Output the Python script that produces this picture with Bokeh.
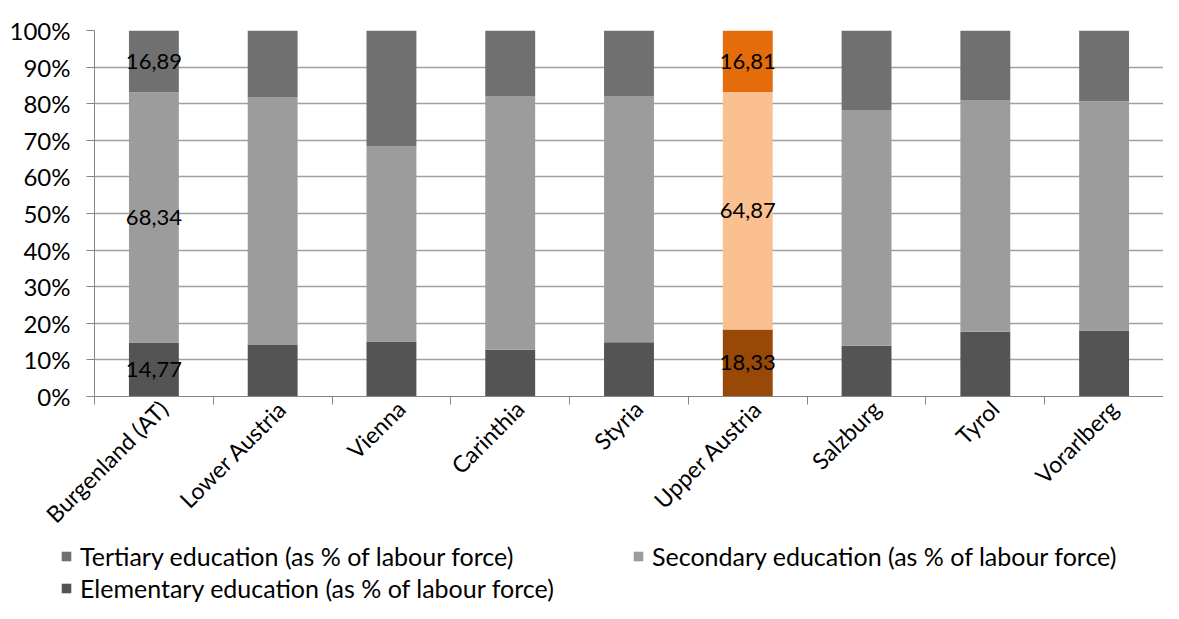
from bokeh.plotting import figure
from bokeh.layouts import column
from bokeh.models import ColumnDataSource, FixedTicker, Legend, LegendItem, Range1d
from bokeh.embed import file_html
from bokeh.resources import INLINE
from bokeh.core.properties import value

regions = ["Burgenland (AT)", "Lower Austria", "Vienna", "Carinthia", "Styria",
           "Upper Austria", "Salzburg", "Tyrol", "Vorarlberg"]
elementary = [14.77, 14.1, 15.0, 12.8, 14.8, 18.33, 13.9, 17.7, 18.0]
secondary = [68.34, 67.6, 53.3, 69.3, 67.3, 64.87, 64.4, 63.3, 62.7]
tertiary = [16.89, 18.3, 31.7, 17.9, 17.9, 16.81, 21.7, 19.0, 19.3]
highlight = "Upper Austria"
labelled = ["Burgenland (AT)", "Upper Austria"]
y_ticks = [0, 10, 20, 30, 40, 50, 60, 70, 80, 90, 100]
series_names = ["Tertiary education (as % of labour force)",
                "Secondary education (as % of labour force)",
                "Elementary education (as % of labour force)"]

FONT = "Lato"
GRAY = {"ter": "#707070", "sec": "#9c9c9c", "ele": "#545454"}
ORANGE = {"ter": "#E46C0A", "sec": "#FAC090", "ele": "#984807"}

xs = [i + 0.5 for i in range(len(regions))]
label_pos = [x + 0.08 for x in xs]
ele_top = list(elementary)
sec_top = [e + s for e, s in zip(elementary, secondary)]
ter_top = [e + s + t for e, s, t in zip(elementary, secondary, tertiary)]

def col(key):
    return [ORANGE[key] if r == highlight else GRAY[key] for r in regions]

src = ColumnDataSource(dict(
    x=xs, zero=[0] * len(xs), ele_top=ele_top, sec_top=sec_top, ter_top=ter_top,
    c_ele=col("ele"), c_sec=col("sec"), c_ter=col("ter"),
))

W = 1163
PH = 541
p = figure(width=W, height=PH, x_range=Range1d(0, len(regions)), y_range=Range1d(0, 100),
           output_backend="svg", toolbar_location=None,
           min_border_left=94, min_border_right=0, min_border_top=30, min_border_bottom=145)
p.outline_line_color = None
p.frame_align = False

BW = 0.42
p.vbar(x="x", bottom="zero", top="ele_top", width=BW, fill_color="c_ele", line_color=None, source=src)
p.vbar(x="x", bottom="ele_top", top="sec_top", width=BW, fill_color="c_sec", line_color=None, source=src)
p.vbar(x="x", bottom="sec_top", top="ter_top", width=BW, fill_color="c_ter", line_color=None, source=src)

# data labels
lx, ly, lt = [], [], []
for i, r in enumerate(regions):
    if r in labelled:
        for bot, v in ((0, elementary[i]), (ele_top[i], secondary[i]), (sec_top[i], tertiary[i])):
            lx.append(xs[i]); ly.append(bot + v / 2); lt.append(f"{v:.2f}".replace(".", ","))
p.text(x=lx, y=ly, text=lt, text_align="center", text_baseline="middle",
       text_font=value(FONT), text_font_size="22px", text_color="#000000")

# y axis
p.yaxis.ticker = FixedTicker(ticks=y_ticks, minor_ticks=[])
p.yaxis.major_label_overrides = {t: f"{t}%" for t in y_ticks}
p.yaxis.major_label_text_font = FONT
p.yaxis.major_label_text_font_size = "24px"
p.yaxis.major_label_text_color = "#000000"
p.yaxis.axis_line_color = "#868686"
p.yaxis.major_tick_line_color = "#868686"
p.yaxis.major_tick_out = 8
p.yaxis.major_tick_in = 0
p.yaxis.major_label_standoff = 16

# x axis: tick marks at category boundaries, labels at category centres
p.xaxis.ticker = FixedTicker(ticks=label_pos, minor_ticks=list(range(len(regions) + 1)))
p.xaxis.major_label_overrides = {x: r for x, r in zip(label_pos, regions)}
p.xaxis.major_label_orientation = 0.785398
p.xaxis.major_label_text_font = FONT
p.xaxis.major_label_text_font_size = "23px"
p.xaxis.major_label_text_color = "#000000"
p.xaxis.axis_line_color = "#868686"
p.xaxis.major_tick_line_color = None
p.xaxis.minor_tick_line_color = "#868686"
p.xaxis.minor_tick_out = 8
p.xaxis.minor_tick_in = 0
p.xaxis.major_label_standoff = 0

p.xgrid.grid_line_color = None
p.ygrid.ticker = FixedTicker(ticks=y_ticks, minor_ticks=[])
p.ygrid.grid_line_color = "#a0a0a0"
p.ygrid.grid_line_width = 1.3

# legend strip below the chart
LH = 603 - PH
q = figure(width=W, height=LH, x_range=Range1d(0, 1), y_range=Range1d(0, 1),
           output_backend="svg", toolbar_location=None,
           x_axis_type=None, y_axis_type=None,
           min_border_left=0, min_border_right=0, min_border_top=0, min_border_bottom=0)
q.outline_line_color = None
q.grid.grid_line_color = None
q.frame_align = False
proxies = {}
for key in ("ter", "sec", "ele"):
    proxies[key] = q.vbar(x=[-5], top=[0], width=0.1, fill_color=GRAY[key], line_color=None)

ROW_H, GAP = 30, 2
def make_legend(items, loc):
    return Legend(items=items, location=loc, orientation="vertical",
                  label_text_font=FONT, label_text_font_size="25px", label_text_color="#000000",
                  glyph_width=12, glyph_height=12, label_standoff=8, label_height=ROW_H,
                  spacing=GAP, padding=0, margin=0, border_line_color=None,
                  background_fill_alpha=0)

leg_a = make_legend([LegendItem(label=series_names[0], renderers=[proxies["ter"]]),
                     LegendItem(label=series_names[2], renderers=[proxies["ele"]])], (60, 0))
leg_b = make_legend([LegendItem(label=series_names[1], renderers=[proxies["sec"]])],
                    (632, ROW_H + GAP))
q.add_layout(leg_a)
q.add_layout(leg_b)

layout = column(p, q, spacing=0)
open("out.html", "w").write(file_html(layout, INLINE))
